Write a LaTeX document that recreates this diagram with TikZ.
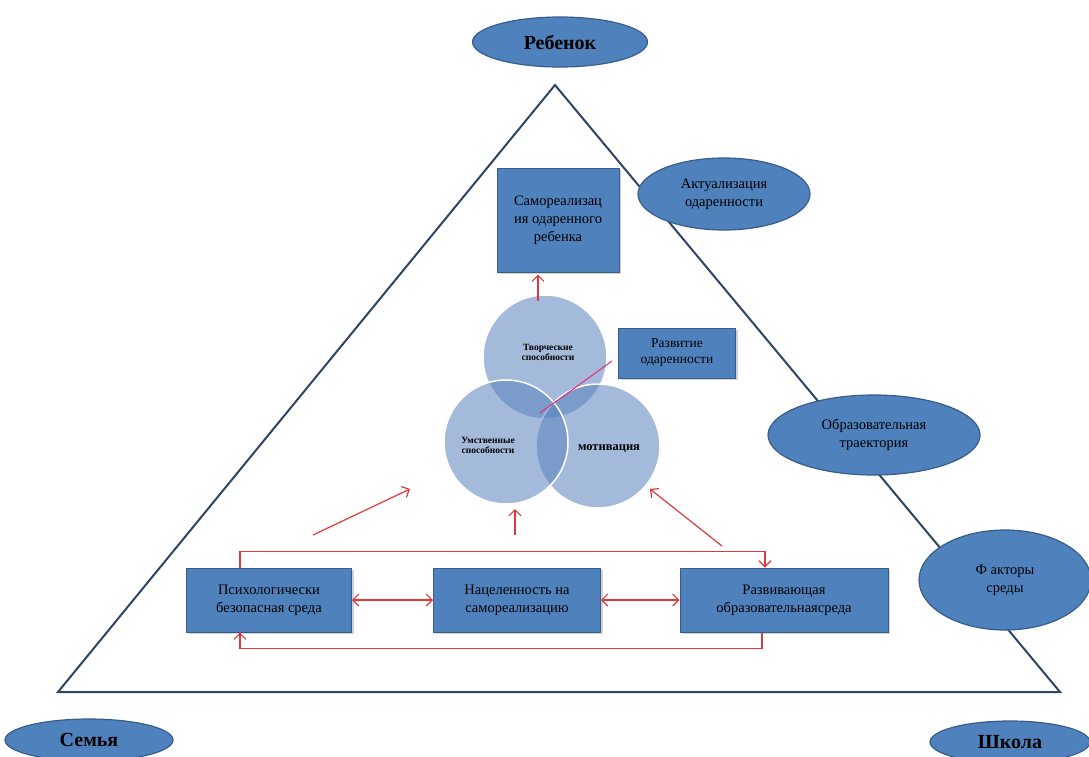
\documentclass[tikz,border=0pt]{standalone}
\usepackage{fontspec}
\setmainfont{Liberation Serif}
\usetikzlibrary{shapes.geometric,arrows.meta,shadows}

\definecolor{boxblue}{HTML}{4F81BD}
\definecolor{boxedge}{HTML}{385D8A}
\definecolor{triedge}{HTML}{2E4563}
\definecolor{linkred}{HTML}{E0393B}
\definecolor{circblue}{HTML}{5A82BE}

\tikzset{
  block/.style={draw=boxedge, fill=boxblue, line width=1pt, align=center,
    inner sep=2pt, drop shadow={opacity=0.35, shadow xshift=2pt, shadow yshift=-2pt},
    font=\fontsize{14.5}{18}\selectfont},
  oval/.style={ellipse, draw=boxedge, fill=boxblue, line width=1.2pt, align=center,
    inner sep=0pt, font=\fontsize{14.5}{18}\selectfont},
  corner/.style={oval, font=\fontsize{20}{22}\selectfont\bfseries},
  ring/.style={circle, fill=circblue, fill opacity=0.55, draw=white, line width=1.5pt,
    minimum size=124pt, inner sep=0pt},
  tiny/.style={align=center, font=\fontsize{9.5}{10}\selectfont\bfseries},
  link/.style={draw=linkred, line width=1.2pt, -{Straight Barb[length=6pt,width=12pt]}},
  both/.style={link, {Straight Barb[length=6pt,width=12pt]}-{Straight Barb[length=6pt,width=12pt]}},
}

\begin{document}
\begin{tikzpicture}[x=1pt, y=-1pt]
\useasboundingbox (0,0) rectangle (1089,756);
\fill[white] (0,0) rectangle (1089,756);

% big triangle
\draw[triedge, line width=2pt, line join=miter] (555,85) -- (1060,692) -- (58,692) -- cycle;

% corner ovals
\node[corner, minimum width=175pt, minimum height=50pt] (child) at (560,42) {Ребенок};
\node[corner, minimum width=168pt, minimum height=42pt] (family) at (89,740) {Семья};
\node[corner, minimum width=160pt, minimum height=42pt] (school) at (1010,742) {Школа};

% side ovals
\node[oval, minimum width=172pt, minimum height=72pt] (actual) at (724,194) {Актуализация\\одаренности};
\node[oval, minimum width=212pt, minimum height=80pt] (path) at (874,435) {Образовательная\\траектория};
\node[oval, minimum width=172pt, minimum height=100pt] (factors) at (1005,580) {Ф акторы\\среды};

% top boxes
\node[block, minimum width=122pt, minimum height=104pt] (self) at (558,220)
  {Самореализац\\ия одаренного\\ребенка};

% three circles
\node[ring] (creat) at (545,357) {};
\node[ring] (motiv) at (598,446) {};
\node[ring] (mind) at (506,442) {};
\node[tiny] at (548,352) {Творческие\\способности};
\node[tiny] at (488,445) {Умственные\\способности};
\node[font=\fontsize{12.5}{14}\selectfont\bfseries] at (609,449) {мотивация};

\node[block, minimum width=117pt, minimum height=50pt, font=\fontsize{13.5}{16}\selectfont] (growth) at (677,353)
  {Развитие\\одаренности};
\coordinate (core) at (540,413);
\draw[linkred!70!magenta, line width=1pt] ([shift={(-6,8)}]growth.west) -- (core);

% bottom boxes
\node[block, minimum width=165pt, minimum height=64pt] (safe) at (269,600)
  {Психологически\\безопасная среда};
\node[block, minimum width=167pt, minimum height=64pt] (aim) at (517,600)
  {Нацеленность на\\самореализацию};
\node[block, minimum width=208pt, minimum height=64pt] (edu) at (784,600)
  {Развивающая\\образовательнаясреда};

% arrows toward circles
\coordinate (up1) at (538,301);
\coordinate (l0) at (313,535);
\coordinate (l1) at (410,489);
\coordinate (m0) at (515,535);
\coordinate (m1) at (515,509);
\coordinate (r0) at (722,546);
\coordinate (r1) at (650,489);
\draw[link, shorten >=2pt] (up1) -- (up1 |- self.south);
\draw[link] (l0) -- (l1);
\draw[link] (m0) -- (m1);
\draw[link] (r0) -- (r1);

% links between bottom boxes
\draw[both] (safe.east) -- (aim.west);
\draw[both] (aim.east) -- (edu.west);
\draw[link] ([xshift=-29pt]safe.north) -- ++(0,-16) -| ([xshift=-19pt]edu.north);
\draw[link] ([xshift=-22pt]edu.south) -- ++(0,16) -| ([xshift=-29pt]safe.south);
\end{tikzpicture}
\end{document}
